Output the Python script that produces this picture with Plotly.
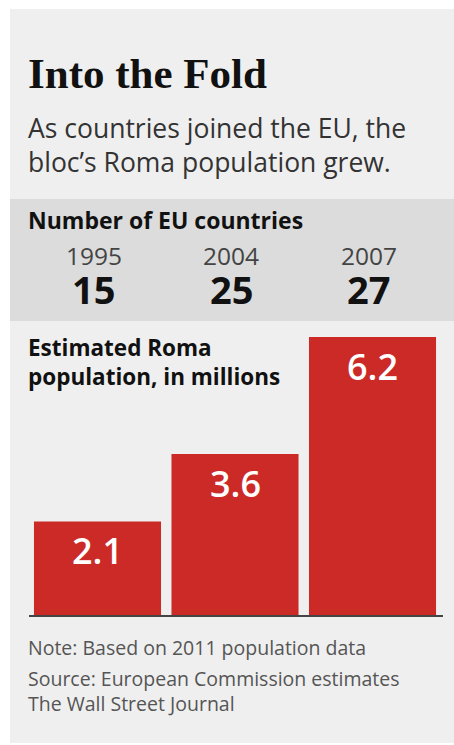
import plotly.graph_objects as go

years = ["1995", "2004", "2007"]
eu_countries = [15, 25, 27]
roma_millions = [2.1, 3.6, 6.2]
value_labels = ["2.1", "3.6", "6.2"]

W, H = 454, 745
def py(y):
    return 1 - y / H
def px(x):
    return x / W

BAR = "#cc2a27"
BG = "#efefef"
BAND = "#dcdcdc"
SANS = "Open Sans"

fig = go.Figure()
fig.add_trace(go.Bar(x=years, y=roma_millions, marker=dict(color=BAR, line=dict(width=0)),
                     hoverinfo="skip"))

unit_px = 45.0
top_px, base_px = 330, 616
fig.update_layout(
    width=W, height=H, margin=dict(l=0, r=0, t=0, b=0),
    paper_bgcolor="white", plot_bgcolor="rgba(0,0,0,0)",
    showlegend=False, bargap=0.076,
    xaxis=dict(type="category", domain=[px(28.75), px(441.25)], range=[-0.5, 2.5],
               showticklabels=False, showgrid=False, zeroline=False, showline=False,
               ticks="", fixedrange=True),
    yaxis=dict(domain=[py(base_px), py(top_px)], range=[0, (base_px - top_px) / unit_px],
               showticklabels=False, showgrid=False, zeroline=False, ticks="", fixedrange=True),
)

shapes = [
    dict(type="rect", xref="paper", yref="paper", x0=px(10), x1=1, y0=py(743), y1=py(9),
         fillcolor=BG, line=dict(width=0), layer="below"),
    dict(type="rect", xref="paper", yref="paper", x0=px(10), x1=1, y0=py(321), y1=py(199),
         fillcolor=BAND, line=dict(width=0), layer="below"),
    dict(type="line", xref="paper", yref="paper", x0=px(29), x1=px(443), y0=py(616), y1=py(616),
         line=dict(color="#444444", width=2), layer="above"),
]
fig.update_layout(shapes=shapes)

ann = []
def text(x, y, s, size, color="#111111", family=SANS, weight="normal", xanchor="left", xref="paper"):
    ann.append(dict(x=x, y=py(y), xref=xref, yref="paper", text=s, showarrow=False,
                    xanchor=xanchor, yanchor="middle", align="left",
                    font=dict(family=family, size=size, color=color, weight=weight)))

text(px(26), 74, "Into the Fold", 43, color="#111111", family="Liberation Serif", weight="bold")
text(px(26), 145.3, "As countries joined the EU, the<br>bloc’s Roma population grew.", 26.5, color="#333333")
text(px(26), 220, "Number of EU countries", 23, color="#111111", weight="bold")
for i, (yr, n) in enumerate(zip(years, eu_countries)):
    ann.append(dict(x=i, y=py(255.5), xref="x", yref="paper", text=yr, showarrow=False,
                    xanchor="center", yanchor="middle", xshift=-4,
                    font=dict(family=SANS, size=24.5, color="#444444")))
    ann.append(dict(x=i, y=py(289), xref="x", yref="paper", text=str(n), showarrow=False,
                    xanchor="center", yanchor="middle", xshift=-4,
                    font=dict(family=SANS, size=38, color="#111111", weight="bold")))
text(px(26), 361.5, "Estimated Roma<br>population, in millions", 22.5, color="#111111", weight="bold")
for i, (v, lab) in enumerate(zip(roma_millions, value_labels)):
    ann.append(dict(x=i, y=v, xref="x", yref="y", text=lab, showarrow=False,
                    xanchor="center", yanchor="middle", yshift=-29,
                    font=dict(family=SANS, size=36, color="white", weight=600)))
text(px(26), 647.5, "Note: Based on 2011 population data", 19.5, color="#555555")
text(px(26), 690.5, "Source: European Commission estimates<br>The Wall Street Journal", 19.5, color="#555555")
fig.update_layout(annotations=ann)

fig.write_html("out.html", config={"displayModeBar": False})
